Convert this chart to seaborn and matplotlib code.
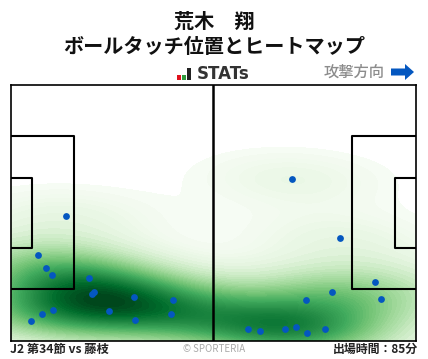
import matplotlib
matplotlib.use("Agg")
import matplotlib.pyplot as plt
from matplotlib.patches import Rectangle, FancyArrow
import pandas as pd
import seaborn as sns

# touch positions in metres on a 105 x 68 pitch
touch_x = [14.45, 7.2, 9.3, 10.8, 20.4, 21.7, 21.2, 32.05, 42.15, 11.1, 8.2, 5.4, 25.6, 32.3,
           41.55, 73.0, 85.4, 94.45, 96.0, 83.3, 76.6, 61.6, 64.7, 71.15, 74.0, 76.85, 81.5]
touch_y = [33.2, 22.8, 19.3, 17.5, 16.7, 13.0, 12.4, 11.6, 10.8, 8.2, 7.1, 5.2, 7.9, 5.5,
           7.1, 43.0, 27.1, 15.6, 11.1, 13.0, 10.8, 3.1, 2.6, 3.1, 3.6, 2.05, 3.1]

title_lines = ["荒木　翔", "ボールタッチ位置とヒートマップ"]
match_label = "J2 第34節 vs 藤枝"
minutes_label = "出場時間：85分"

W, H = 428, 359
df = pd.DataFrame({"x": touch_x, "y": touch_y})

sns.set_theme(style="white")
plt.rcParams["font.family"] = ["Noto Sans CJK JP", "DejaVu Sans"]

fig = plt.figure(figsize=(W / 100, H / 100), dpi=100)
ax = fig.add_axes([10.5 / W, 1 - 340.5 / H, 405.5 / W, 256 / H])

sns.kdeplot(data=df, x="x", y="y", fill=True, cmap="Greens", levels=60, thresh=0.012,
            bw_adjust=1.0, gridsize=200, clip=((0, 105), (0, 68)), ax=ax, zorder=1)

# pitch lines
for x0, x1 in [(0, 16.5), (105, 88.5)]:
    ax.plot([x0, x1, x1, x0], [13.6, 13.6, 54.3, 54.3], color="black", lw=1.5, zorder=2)
for x0, x1 in [(0, 5.5), (105, 99.5)]:
    ax.plot([x0, x1, x1, x0], [24.7, 24.7, 43.1, 43.1], color="black", lw=1.5, zorder=2)
ax.axvline(52.4, color="black", lw=1.8, zorder=2)

sns.scatterplot(data=df, x="x", y="y", color="#0457c0", s=24, linewidth=0, ax=ax, zorder=3)

ax.set_xlim(0, 105)
ax.set_ylim(0, 68)
ax.set_xlabel("")
ax.set_ylabel("")
ax.set_xticks([])
ax.set_yticks([])
for s in ax.spines.values():
    s.set_visible(True)
    s.set_color("black")
    s.set_linewidth(1.2)

fig.text(214 / W, 1 - 21.5 / H, title_lines[0], ha="center", va="center", fontsize=14.5, fontweight="bold", color="#111111")
fig.text(214 / W, 1 - 46.5 / H, title_lines[1], ha="center", va="center", fontsize=14.5, fontweight="bold", color="#111111")

# logo
for px, top, col in [(177, 75, "#e0101c"), (182, 75, "#2f9a3c"), (187, 68, "#222222")]:
    fig.add_artist(Rectangle((px / W, 1 - 80 / H), 4 / W, (80 - top) / H, transform=fig.transFigure, color=col, lw=0))
fig.text(197 / W, 1 - 74 / H, "STATs", ha="left", va="center", fontsize=12, fontweight="bold",
         family="DejaVu Sans", color="#333333")

fig.text(385 / W, 1 - 72 / H, "攻撃方向", ha="right", va="center", fontsize=11, color="#8c8c8c", fontweight="medium")
fig.add_artist(FancyArrow(391 / W, 1 - 72 / H, 23 / W, 0, width=7 / H, head_width=16 / H, head_length=9 / W,
                          length_includes_head=True, transform=fig.transFigure, color="#0457c0", lw=0))

fig.text(10 / W, 1 - 349.5 / H, match_label, ha="left", va="center", fontsize=8.8, fontweight="bold", color="#222222")
fig.text(214 / W, 1 - 348.5 / H, "© SPORTERIA", ha="center", va="center", fontsize=7, color="#aaaaaa")
fig.text(418 / W, 1 - 349.5 / H, minutes_label, ha="right", va="center", fontsize=8.6, fontweight="bold", color="#222222")

fig.savefig("out.png", dpi=100)
